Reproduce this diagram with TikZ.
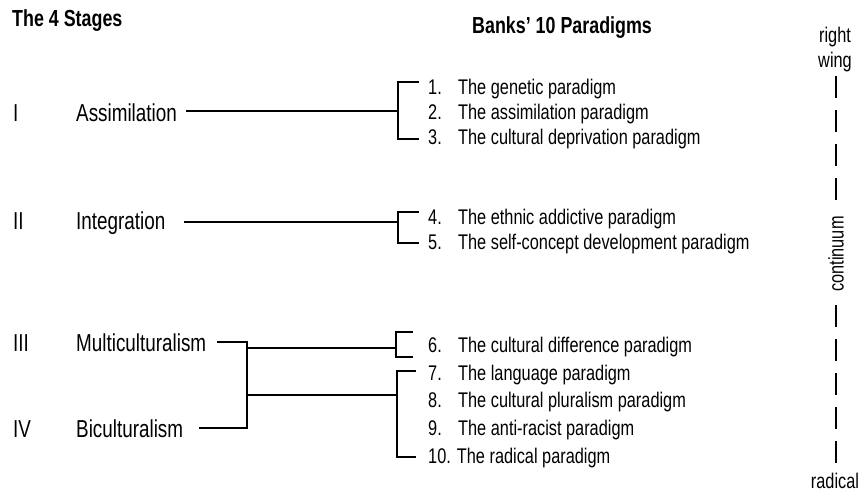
\documentclass[tikz,border=0pt]{standalone}
\usepackage{fontspec}
\setmainfont{Liberation Sans}[FakeStretch=0.77]
\begin{document}
\begin{tikzpicture}[x=1pt,y=-1pt,
  txt/.style={font=\fontsize{21.2}{24}\selectfont, inner sep=0pt, anchor=base west},
  stg/.style={font=\fontsize{24.5}{28}\selectfont, inner sep=0pt, anchor=base west},
  hd/.style={font=\fontsize{23.2}{27}\selectfont\bfseries, inner sep=0pt, anchor=base west},
  side/.style={font=\fontsize{21.2}{24}\selectfont, inner sep=0pt, anchor=base},
  ln/.style={line width=2pt, line cap=rect},
  dsh/.style={line width=2pt, dash pattern=on 22pt off 12pt}]
\useasboundingbox (0,0) rectangle (864,495);

% headings
\node[hd] (h1) at (12,27) {The 4 Stages};
\node[hd] (h2) at (472,34) {Banks’ 10 Paradigms};

% stages
\node[stg] (r1) at (13,121) {I};
\node[stg] (s1) at (76,121) {Assimilation};
\node[stg] (r2) at (13,229) {II};
\node[stg] (s2) at (76,229) {Integration};
\node[stg] (r3) at (13,351) {III};
\node[stg] (s3) at (76,351) {Multiculturalism};
\node[stg] (r4) at (13,437) {IV};
\node[stg] (s4) at (76,437) {Biculturalism};

% paradigms
\node[txt] (p1) at (428,94) {\makebox[30pt][l]{1.}The genetic paradigm};
\node[txt] (p2) at (428,119) {\makebox[30pt][l]{2.}The assimilation paradigm};
\node[txt] (p3) at (428,144) {\makebox[30pt][l]{3.}The cultural deprivation paradigm};
\node[txt] (p4) at (428,224) {\makebox[30pt][l]{4.}The ethnic addictive paradigm};
\node[txt] (p5) at (428,249) {\makebox[30pt][l]{5.}The self-concept development paradigm};
\node[txt] (p6) at (428,352) {\makebox[30pt][l]{6.}The cultural difference paradigm};
\node[txt] (p7) at (428,380) {\makebox[30pt][l]{7.}The language paradigm};
\node[txt] (p8) at (428,407) {\makebox[30pt][l]{8.}The cultural pluralism paradigm};
\node[txt] (p9) at (428,435) {\makebox[30pt][l]{9.}The anti-racist paradigm};
\node[txt] (p10) at (428,463) {10. The radical paradigm};

% bracket coordinates
\coordinate (a1) at (187,111);
\coordinate (b1) at (398,111);
\coordinate (b1t) at (398,82);
\coordinate (b1b) at (398,139);
\coordinate (b1te) at (418,82);
\coordinate (b1be) at (418,139);

\coordinate (a2) at (185,222);
\coordinate (b2) at (398,222);
\coordinate (b2t) at (398,212);
\coordinate (b2b) at (398,243);
\coordinate (b2te) at (418,212);
\coordinate (b2be) at (418,243);

\coordinate (m3) at (218,342);
\coordinate (j3) at (247,342);
\coordinate (m4) at (200,428);
\coordinate (j4) at (247,428);
\coordinate (ju) at (247,348);
\coordinate (jl) at (247,395);

\coordinate (b3) at (396,348);
\coordinate (b3t) at (396,332);
\coordinate (b3b) at (396,357);
\coordinate (b3te) at (412,332);
\coordinate (b3be) at (412,357);

\coordinate (b4) at (397,395);
\coordinate (b4t) at (397,371);
\coordinate (b4b) at (397,457);
\coordinate (b4te) at (415,371);
\coordinate (b4be) at (415,457);

% connectors
\draw[ln] (a1) -- (b1);
\draw[ln] (b1te) -- (b1t) -- (b1b) -- (b1be);
\draw[ln] (a2) -- (b2);
\draw[ln] (b2te) -- (b2t) -- (b2b) -- (b2be);
\draw[ln] (m3) -- (j3) -- (j4) -- (m4);
\draw[ln] (ju) -- (b3);
\draw[ln] (jl) -- (b4);
\draw[ln] (b3te) -- (b3t) -- (b3b) -- (b3be);
\draw[ln] (b4te) -- (b4t) -- (b4b) -- (b4be);

% continuum
\node[side] (rt) at (835,43) {right};
\node[side] (wg) at (835,67) {wing};
\node[font=\fontsize{21.2}{24}\selectfont, inner sep=0pt, rotate=90] (ct) at (836,254) {continuum};
\node[side] (rd) at (835,488) {radical};
\coordinate (c1) at (836,76);
\coordinate (c2) at (836,200);
\coordinate (c3) at (836,305);
\coordinate (c4) at (836,467);
\draw[dsh] (c1) -- (c2);
\draw[dsh] (c3) -- (c4);
\end{tikzpicture}
\end{document}
